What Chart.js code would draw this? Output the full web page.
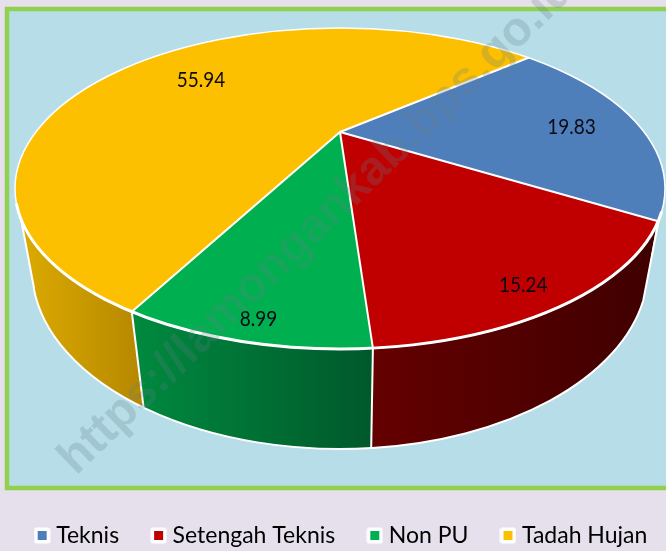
<!DOCTYPE html>
<html>
<head>
<meta charset="utf-8">
<script src="https://cdn.jsdelivr.net/npm/chart.js@4"></script>
<style>
html,body{margin:0;padding:0;background:#e6e0ec;overflow:hidden}
canvas{display:block}
</style>
</head>
<body>
<canvas id="c" width="666" height="551"></canvas>
<script>
const categories = ["Teknis", "Setengah Teknis", "Non PU", "Tadah Hujan"];
const shares = [19.83, 15.24, 8.99, 55.94];
const faceColors = ["#4f7fbb", "#c00000", "#00b050", "#fdc000"];
const wallFrom = ["#3d6391", "#640000", "#008a3f", "#dcaa00"];
const wallTo = ["#3d6391", "#3f0000", "#00582b", "#b58700"];
const labelReach = [0.785, 0.81, 0.84, 0.72];
const labelDrop = [4, 14, 11, 0];
const watermark = "https://lamongankab.bps.go.id";

// Tilted-view geometry of the pie
const squash = 0.465;
const topApex = {x: 340, y: 132};
const topRim = {x: 340, y: 188.5, rx: 325, ry: 160.5};
const baseApex = {x: 339, y: 240};
const baseRim = {x: 340, y: 269, rx: 308, ry: 180};
const vanish = {x: 344, y: 2032};
const faceReach = 500;

function rimHit(apex, rim, a) {
  const dx = Math.cos(a), dy = squash * Math.sin(a);
  const ox = (apex.x - rim.x) / rim.rx, oy = (apex.y - rim.y) / rim.ry;
  const ux = dx / rim.rx, uy = dy / rim.ry;
  const A = ux * ux + uy * uy, B = 2 * (ox * ux + oy * uy), C = ox * ox + oy * oy - 1;
  const t = (-B + Math.sqrt(B * B - 4 * A * C)) / (2 * A);
  return {x: apex.x + dx * t, y: apex.y + dy * t, t, dx, dy};
}
function towardVanish(p, u) {
  return {x: p.x + (vanish.x - p.x) * u, y: p.y + (vanish.y - p.y) * u};
}

function hullPath(ctx) {
  ctx.beginPath();
  ctx.moveTo(21, 219);
  ctx.lineTo(34, 288);
  ctx.ellipse(baseRim.x, baseRim.y, baseRim.rx, baseRim.ry, 0, 174 * Math.PI / 180, 10 * Math.PI / 180, true);
  ctx.lineTo(660, 214);
  ctx.closePath();
}

function legendSwatch(color) {
  const c = document.createElement("canvas");
  c.width = 17; c.height = 17;
  const x = c.getContext("2d");
  x.fillStyle = "#ffffff";
  x.beginPath();
  x.roundRect(0.5, 0.5, 16, 16, 2.5);
  x.fill();
  x.fillStyle = color;
  x.fillRect(4, 4, 9, 9);
  return c;
}

const pie3d = {
  id: "pie3d",
  beforeDraw(chart) {
    const ctx = chart.ctx;
    ctx.save();
    ctx.fillStyle = "#e6e0ec";
    ctx.fillRect(0, 0, chart.width, chart.height);
    ctx.fillStyle = "#b7dde8";
    ctx.strokeStyle = "#92d050";
    ctx.lineWidth = 4.5;
    ctx.beginPath();
    ctx.rect(7, 9, 680, 479);
    ctx.fill();
    ctx.stroke();
    ctx.restore();
  },
  beforeDatasetsDraw(chart) {
    const ctx = chart.ctx;
    const arcs = chart.getDatasetMeta(0).data;
    // side walls
    ctx.save();
    hullPath(ctx);
    ctx.clip();
    arcs.forEach((arc, i) => {
      const n = 60;
      const pts = [], outer = [];
      for (let k = 0; k <= n; k++) {
        const a = arc.startAngle + (arc.endAngle - arc.startAngle) * k / n;
        pts.push(rimHit(topApex, topRim, a));
        const b = rimHit(baseApex, baseRim, a);
        outer.push({x: baseApex.x + b.dx * b.t * 1.6, y: baseApex.y + b.dy * b.t * 1.6});
      }
      ctx.beginPath();
      pts.forEach((p, k) => k ? ctx.lineTo(p.x, p.y) : ctx.moveTo(p.x, p.y));
      const fEnd = Math.sin(arc.endAngle) > 0 ? towardVanish(pts[n], 0.15) : pts[n];
      const fStart = Math.sin(arc.startAngle) > 0 ? towardVanish(pts[0], 0.15) : pts[0];
      ctx.lineTo(fEnd.x, fEnd.y);
      outer.reverse().forEach(p => ctx.lineTo(p.x, p.y));
      ctx.lineTo(fStart.x, fStart.y);
      ctx.closePath();
      const xs = [pts[0].x, pts[n].x];
      const front = i === 3 ? [22, pts[0].x + 12] : [Math.min(...xs), Math.max(...xs)];
      const g = ctx.createLinearGradient(front[0], 0, front[1], 0);
      g.addColorStop(0, wallFrom[i]);
      g.addColorStop(1, wallTo[i]);
      ctx.fillStyle = g;
      ctx.fill();
    });
    // wall edges
    ctx.strokeStyle = "#ffffff";
    ctx.lineWidth = 2;
    arcs.forEach(arc => {
      if (Math.sin(arc.startAngle) < 0.2) return;
      const t = rimHit(topApex, topRim, arc.startAngle), f = towardVanish(t, 0.15);
      ctx.beginPath();
      ctx.moveTo(t.x, t.y);
      ctx.lineTo(f.x, f.y);
      ctx.stroke();
    });
    ctx.restore();
    ctx.save();
    ctx.strokeStyle = "#ffffff";
    ctx.lineWidth = 2;
    ctx.lineJoin = "round";
    hullPath(ctx);
    ctx.stroke();
    ctx.restore();
    // top face: the library's own arcs seen through the tilted view
    const arc0 = arcs[0];
    const k = faceReach / arc0.outerRadius;
    ctx.save();
    ctx.beginPath();
    ctx.ellipse(topRim.x, topRim.y, topRim.rx, topRim.ry, 0, 0, Math.PI * 2);
    ctx.clip();
    ctx.translate(topApex.x, topApex.y);
    ctx.scale(k, k * squash);
    ctx.translate(-arc0.x, -arc0.y);
  },
  afterDatasetsDraw(chart) {
    const ctx = chart.ctx;
    const arcs = chart.getDatasetMeta(0).data;
    ctx.restore();
    ctx.save();
    ctx.strokeStyle = "#ffffff";
    ctx.lineCap = "round";
    ctx.lineWidth = 2;
    arcs.forEach(arc => {
      const t = rimHit(topApex, topRim, arc.startAngle);
      ctx.beginPath();
      ctx.moveTo(topApex.x, topApex.y);
      ctx.lineTo(t.x, t.y);
      ctx.stroke();
    });
    ctx.lineWidth = 1.5;
    ctx.beginPath();
    ctx.ellipse(topRim.x, topRim.y, topRim.rx, topRim.ry, 0, 0, Math.PI * 2);
    ctx.stroke();
    ctx.lineWidth = 3;
    ctx.beginPath();
    ctx.ellipse(topRim.x, topRim.y, topRim.rx, topRim.ry, 0, 0.15, Math.PI - 0.1);
    ctx.stroke();
    // value labels
    ctx.fillStyle = "#0b0b14";
    ctx.font = "19px Lato";
    ctx.textAlign = "center";
    ctx.textBaseline = "middle";
    arcs.forEach((arc, i) => {
      const a = (arc.startAngle + arc.endAngle) / 2;
      const r = rimHit(topApex, topRim, a);
      const f = labelReach[i];
      ctx.save();
      ctx.translate(topApex.x + r.dx * r.t * f, topApex.y + r.dy * r.t * f + labelDrop[i]);
      ctx.scale(1, 1.15);
      ctx.fillText(shares[i].toFixed(2), 0, 0);
      ctx.restore();
    });
    ctx.restore();
  },
  afterDraw(chart) {
    const ctx = chart.ctx;
    ctx.save();
    ctx.translate(76, 476);
    ctx.rotate(-44 * Math.PI / 180);
    ctx.font = "bold 48px 'Liberation Sans'";
    ctx.fillStyle = "rgba(95,125,135,0.24)";
    ctx.textAlign = "left";
    ctx.textBaseline = "alphabetic";
    ctx.fillText(watermark, 0, 0);
    ctx.restore();
  }
};

new Chart(document.getElementById("c"), {
  type: "pie",
  data: {
    labels: categories,
    datasets: [{
      data: shares,
      backgroundColor: faceColors,
      borderWidth: 0,
      clip: false
    }]
  },
  options: {
    responsive: false,
    animation: false,
    rotation: 49.7,
    layout: {padding: {left: -30, right: -51, bottom: -6}},
    plugins: {
      tooltip: {enabled: false},
      legend: {
        position: "bottom",
        labels: {
          color: "#15151e",
          font: {family: "Lato", size: 23},
          boxWidth: 5,
          usePointStyle: true,
          padding: 37,
          generateLabels(chart) {
            return categories.map((name, i) => ({
              text: name,
              fillStyle: faceColors[i],
              pointStyle: legendSwatch(faceColors[i]),
              index: i
            }));
          }
        }
      }
    }
  },
  plugins: [pie3d]
});
</script>
</body>
</html>
